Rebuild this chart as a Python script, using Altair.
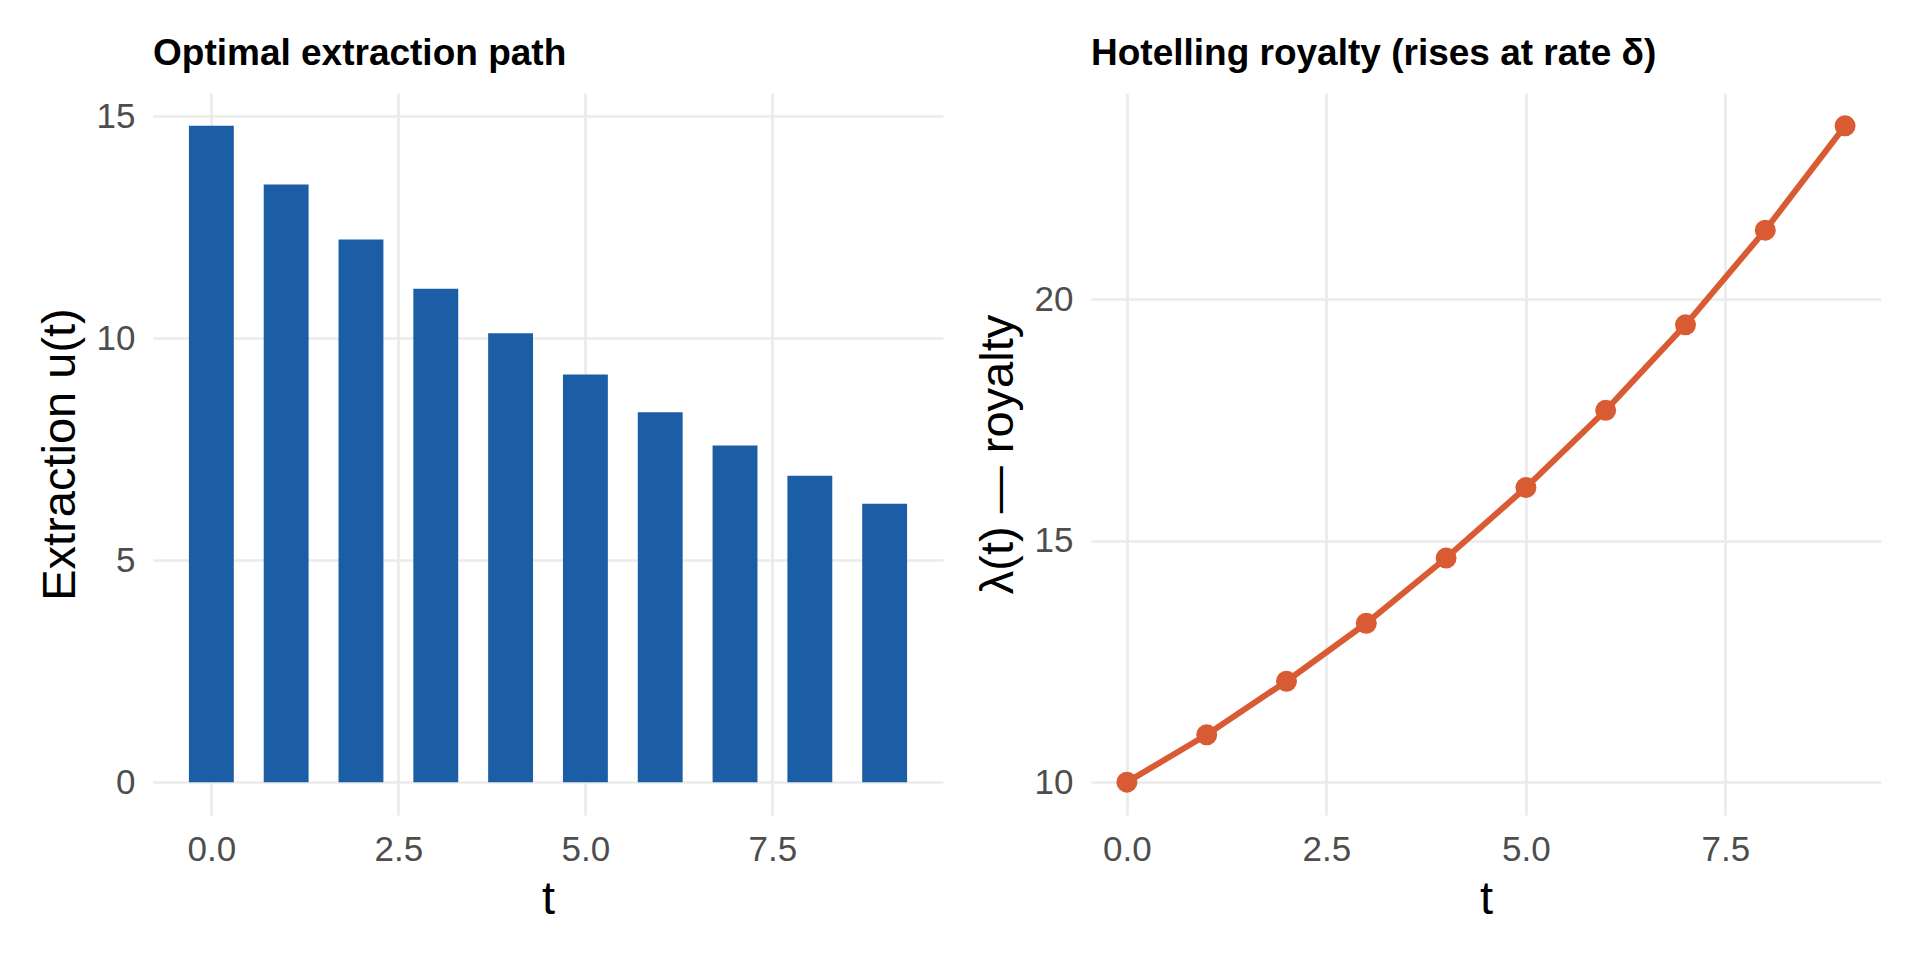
import altair as alt
import pandas as pd

# Data
t_vals = [0, 1, 2, 3, 4, 5, 6, 7, 8, 9]
extraction = [14.78, 13.46, 12.22, 11.11, 10.11, 9.18, 8.33, 7.58, 6.90, 6.27]
royalty = [10.00, 10.98, 12.09, 13.29, 14.64, 16.10, 17.70, 19.47, 21.43, 23.59]
x_ticks = [0, 2.5, 5, 7.5]
left_y_ticks = [0, 5, 10, 15]
right_y_ticks = [10, 15, 20]

df_left = pd.DataFrame({"t": t_vals, "u": extraction})
df_right = pd.DataFrame({"t": t_vals, "lam": royalty})

FONT = "Liberation Sans"
W, H = 790, 722
GRID = "#EBEBEB"
LABEL_COLOR = "#4D4D4D"

def x_axis():
    return alt.Axis(values=x_ticks, format=".1f", grid=True, gridColor=GRID, gridWidth=2.7,
                    ticks=False, domain=False, labelFont=FONT, labelFontSize=35,
                    labelColor=LABEL_COLOR, labelPadding=17, labelFlush=False,
                    titleFont=FONT, titleFontSize=47, titleFontWeight="normal", titleColor="black",
                    titleBaseline="alphabetic", titleX=W / 2, titleY=98, titleAlign="center")

def y_axis(vals, title):
    return alt.Axis(values=vals, format="d", grid=True, gridColor=GRID, gridWidth=2.7,
                    ticks=False, domain=False, labelFont=FONT, labelFontSize=35,
                    labelColor=LABEL_COLOR, labelPadding=18, labelFlush=False,
                    title=title, titleFont=FONT, titleFontSize=47, titleFontWeight="normal",
                    titleColor="black", titleAngle=-90, titleBaseline="alphabetic",
                    titleAlign="center", titleX=-78.5, titleY=H / 2)

def title(text):
    return alt.TitleParams(text=text, anchor="start", frame="group", font=FONT, fontSize=37,
                           fontWeight="bold", color="black", baseline="alphabetic", offset=-9)

left = alt.Chart(df_left, title=title("Optimal extraction path")).transform_calculate(
    t0="datum.t - 0.3", t1="datum.t + 0.3"
).mark_bar(color="#1C5EA5").encode(
    x=alt.X("t0:Q", scale=alt.Scale(domain=[-0.78, 9.78], nice=False, zero=False),
            axis=x_axis(), title="t"),
    x2="t1:Q",
    y=alt.Y("u:Q", scale=alt.Scale(domain=[-0.739, 15.519], nice=False, zero=False),
            axis=y_axis(left_y_ticks, "Extraction u(t)")),
    y2=alt.datum(0),
).properties(width=W, height=H)

base_r = alt.Chart(df_right).encode(
    x=alt.X("t:Q", scale=alt.Scale(domain=[-0.45, 9.45], nice=False, zero=False),
            axis=x_axis(), title="t"),
    y=alt.Y("lam:Q", scale=alt.Scale(domain=[9.32, 24.27], nice=False, zero=False),
            axis=y_axis(right_y_ticks, "λ(t) — royalty")),
)
right = alt.layer(
    base_r.mark_line(color="#D95B33", strokeWidth=6),
    base_r.mark_point(color="#D95B33", filled=True, opacity=1, size=440),
    title=title("Hotelling royalty (rises at rate δ)"),
).properties(width=W, height=H)

chart = alt.hconcat(left, right, spacing=31).properties(
    padding={"left": 28, "top": 27, "right": 5, "bottom": 5},
    background="white",
).configure_view(stroke=None)

chart.save("out.html", embed_options={"renderer": "svg", "actions": False})
